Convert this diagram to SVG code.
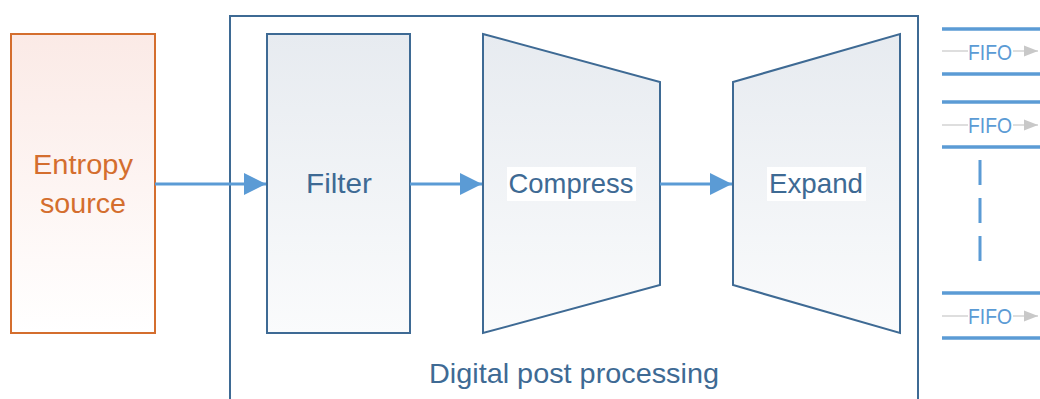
<svg xmlns="http://www.w3.org/2000/svg" width="1040" height="399" viewBox="0 0 1040 399">
  <defs>
    <linearGradient id="gOrange" x1="0" y1="0" x2="0" y2="1">
      <stop offset="0" stop-color="#FBEAE6"/>
      <stop offset="1" stop-color="#FFFFFF"/>
    </linearGradient>
    <linearGradient id="gBlue" x1="0" y1="0" x2="0" y2="1">
      <stop offset="0" stop-color="#E7EBF0"/>
      <stop offset="1" stop-color="#FAFBFC"/>
    </linearGradient>
    <marker id="arrowBlue" viewBox="0 0 10 10" refX="10" refY="5" markerWidth="22" markerHeight="22" markerUnits="userSpaceOnUse" orient="auto">
      <path d="M0,0 L10,5 L0,10 Z" fill="#5B9BD5"/>
    </marker>
    <marker id="arrowGray" viewBox="0 0 10 10" refX="10" refY="5" markerWidth="14" markerHeight="14" markerUnits="userSpaceOnUse" orient="auto">
      <path d="M0,1 L10,5 L0,9 Z" fill="#C8C8C8"/>
    </marker>
  </defs>
  <style>
    .lbl { font-family: "Liberation Sans", Arial, sans-serif; font-size: 28px; fill: #3E6A94; text-anchor: middle; }
    .box { stroke: #3E6A94; stroke-width: 2; fill: url(#gBlue); }
    .flow { stroke: #5B9BD5; stroke-width: 3; fill: none; marker-end: url(#arrowBlue); }
    .fifoBar { stroke: #5B9BD5; stroke-width: 3.5; }
    .fifoIn { stroke: #C8C8C8; stroke-width: 1.2; fill: none; }
    .fifoTxt { font-family: "Liberation Sans", Arial, sans-serif; font-size: 22px; fill: #5B9BD5; text-anchor: middle; }
    .src { font-family: "Liberation Sans", Arial, sans-serif; font-size: 27px; fill: #D46E2E; text-anchor: middle; }
  </style>
  <rect width="1040" height="399" fill="#FFFFFF"/>

  <!-- Digital post processing container -->
  <g id="dpp">
    <path d="M230,400 L230,16 L918,16 L918,400" fill="none" stroke="#3E6A94" stroke-width="2"/>
    <text class="lbl" x="574" y="383" textLength="290" lengthAdjust="spacingAndGlyphs">Digital post processing</text>
  </g>

  <!-- Entropy source -->
  <g id="entropy">
    <rect x="11" y="34" width="144" height="299" fill="url(#gOrange)" stroke="#D46E2E" stroke-width="2"/>
    <text class="src" x="83" y="174" textLength="100" lengthAdjust="spacingAndGlyphs">Entropy</text>
    <text class="src" x="83" y="213" textLength="86" lengthAdjust="spacingAndGlyphs">source</text>
  </g>

  <!-- Filter -->
  <g id="filter">
    <rect class="box" x="267" y="34" width="143" height="299"/>
    <text class="lbl" x="339" y="193" textLength="66" lengthAdjust="spacingAndGlyphs">Filter</text>
  </g>

  <!-- Compress -->
  <g id="compress">
    <polygon class="box" points="483,34 660,82 660,285 483,333"/>
    <rect x="507" y="167" width="129" height="34" fill="#FFFFFF"/>
    <text class="lbl" x="571" y="193" textLength="125" lengthAdjust="spacingAndGlyphs">Compress</text>
  </g>

  <!-- Expand -->
  <g id="expand">
    <polygon class="box" points="733,82 900,34 900,333 733,285"/>
    <rect x="767" y="167" width="99" height="34" fill="#FFFFFF"/>
    <text class="lbl" x="816" y="193" textLength="94" lengthAdjust="spacingAndGlyphs">Expand</text>
  </g>

  <!-- FIFO outputs -->
  <g id="fifo1">
    <line class="fifoBar" x1="942" y1="29" x2="1040" y2="29"/>
    <line class="fifoBar" x1="942" y1="74" x2="1040" y2="74"/>
    <line class="fifoIn" x1="942" y1="51" x2="968" y2="51"/>
    <text class="fifoTxt" x="990" y="60" textLength="44" lengthAdjust="spacingAndGlyphs">FIFO</text>
    <line class="fifoIn" x1="1013" y1="51" x2="1038" y2="51" marker-end="url(#arrowGray)"/>
  </g>
  <g id="fifo2">
    <line class="fifoBar" x1="942" y1="102" x2="1040" y2="102"/>
    <line class="fifoBar" x1="942" y1="147" x2="1040" y2="147"/>
    <line class="fifoIn" x1="942" y1="125" x2="968" y2="125"/>
    <text class="fifoTxt" x="990" y="133" textLength="44" lengthAdjust="spacingAndGlyphs">FIFO</text>
    <line class="fifoIn" x1="1013" y1="125" x2="1038" y2="125" marker-end="url(#arrowGray)"/>
  </g>
  <g id="fifoN">
    <line class="fifoBar" x1="942" y1="293" x2="1040" y2="293"/>
    <line class="fifoBar" x1="942" y1="338" x2="1040" y2="338"/>
    <line class="fifoIn" x1="942" y1="316" x2="968" y2="316"/>
    <text class="fifoTxt" x="990" y="324" textLength="44" lengthAdjust="spacingAndGlyphs">FIFO</text>
    <line class="fifoIn" x1="1013" y1="316" x2="1038" y2="316" marker-end="url(#arrowGray)"/>
  </g>
  <g id="ellipsis">
    <line x1="980" y1="160" x2="980" y2="262" stroke="#5B9BD5" stroke-width="3" stroke-dasharray="25 13"/>
  </g>

  <!-- Connectors -->
  <g id="connectors">
    <line class="flow" x1="155" y1="184" x2="266" y2="184"/>
    <line class="flow" x1="410" y1="184" x2="482" y2="184"/>
    <line class="flow" x1="660" y1="184" x2="732" y2="184"/>
  </g>
</svg>
